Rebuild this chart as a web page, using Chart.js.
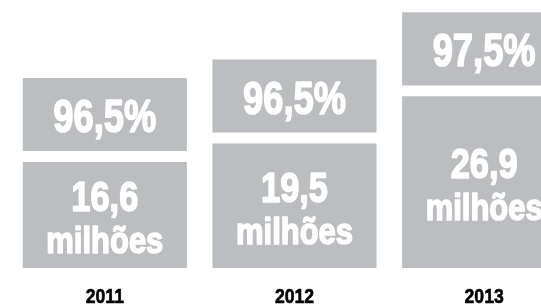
<!DOCTYPE html>
<html>
<head>
<meta charset="utf-8">
<script src="https://cdn.jsdelivr.net/npm/chart.js@4"></script>
<style>
  html, body { margin: 0; padding: 0; background: #fff; overflow: hidden; }
  #wrap { width: 580px; height: 306px; }
</style>
</head>
<body>
<div id="wrap"><canvas id="chart" width="580" height="306"></canvas></div>
<script>
// --- Data ---
const years = ['2011', '2012', '2013'];
const milhoes = [16.6, 19.5, 26.9];
const percentuais = ['96,5%', '96,5%', '97,5%'];
const unidade = 'milhões';

// --- Box geometry (in value units) ---
const GAP = 1.72;      // white gap between the two boxes
const BOX = 11.45;     // height of the percentage box
const GRAY = '#bcbdc0';

const pctBoxes = milhoes.map(v => [v + GAP, v + GAP + BOX]);

// draws condensed, heavy text (horizontal squeeze) centred at x
function squeezed(ctx, text, x, y, size, sx, color, weight) {
  ctx.save();
  ctx.font = `bold ${size}px "Liberation Sans", Arial, sans-serif`;
  ctx.textAlign = 'center';
  ctx.textBaseline = 'alphabetic';
  ctx.fillStyle = color;
  ctx.strokeStyle = color;
  ctx.translate(x, y);
  ctx.scale(sx, 1);
  ctx.lineWidth = weight;
  ctx.lineJoin = 'round';
  if (weight > 0) ctx.strokeText(text, 0, 0);
  ctx.fillText(text, 0, 0);
  ctx.restore();
}

const boxLabels = {
  id: 'boxLabels',
  afterDatasetsDraw(chart) {
    const ctx = chart.ctx;
    const valMeta = chart.getDatasetMeta(0);
    const pctMeta = chart.getDatasetMeta(1);
    const xScale = chart.scales.x;

    valMeta.data.forEach((bar, i) => {
      const cy = (bar.y + bar.base) / 2;
      squeezed(ctx, milhoes[i].toFixed(1).replace('.', ','), bar.x, cy - 4, 43, 0.8, '#fff', 1.6);
      squeezed(ctx, unidade, bar.x, cy + 38, 36, 0.86, '#fff', 1.6);
    });

    pctMeta.data.forEach((bar, i) => {
      const cy = (bar.y + bar.base) / 2;
      squeezed(ctx, percentuais[i], bar.x, cy + 17.5, 46, 0.79, '#fff', 1.6);
    });

    // year labels under each column
    years.forEach((yr, i) => {
      squeezed(ctx, yr, xScale.getPixelForValue(i), xScale.top + 35, 21, 0.84, '#000', 0.6);
    });
  }
};

new Chart(document.getElementById('chart'), {
  type: 'bar',
  data: {
    labels: years,
    datasets: [
      {
        label: 'Milhões',
        data: milhoes,
        backgroundColor: GRAY,
        borderWidth: 0,
        grouped: false,
        barPercentage: 1,
        categoryPercentage: 0.865
      },
      {
        label: 'Percentual',
        data: pctBoxes,
        backgroundColor: GRAY,
        borderWidth: 0,
        grouped: false,
        barPercentage: 1,
        categoryPercentage: 0.865
      }
    ]
  },
  options: {
    responsive: false,
    animation: false,
    layout: { padding: { left: 10, right: 1, top: 0, bottom: 0 } },
    plugins: { legend: { display: false }, tooltip: { enabled: false } },
    scales: {
      x: {
        grid: { display: false, drawTicks: false },
        border: { display: false },
        afterFit: axis => { axis.height = 38; },
        ticks: { display: false }
      },
      y: {
        display: false,
        min: 0,
        max: 42
      }
    }
  },
  plugins: [boxLabels]
});
</script>
</body>
</html>
